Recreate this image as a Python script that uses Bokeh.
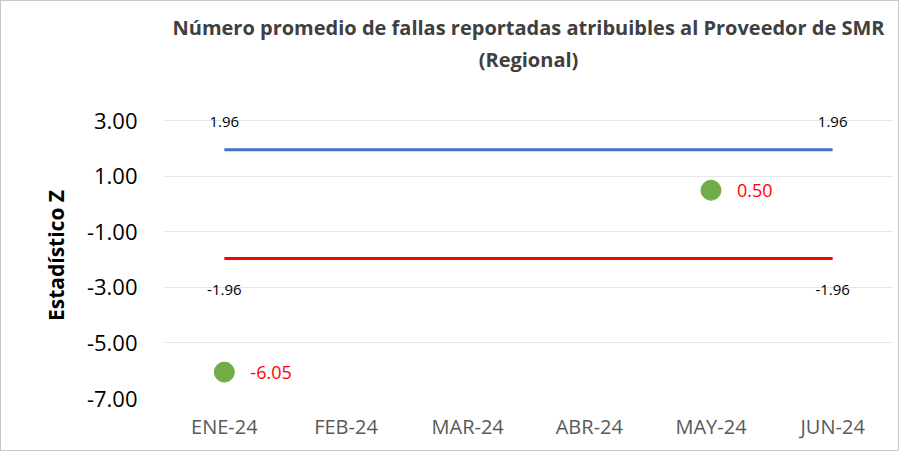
from bokeh.plotting import figure
from bokeh.models import Range1d, FixedTicker, NumeralTickFormatter, Title
from bokeh.embed import file_html
from bokeh.resources import INLINE
from bokeh.core.properties import value

months = ["ENE-24", "FEB-24", "MAR-24", "ABR-24", "MAY-24", "JUN-24"]
upper_limit = [1.96, 1.96, 1.96, 1.96, 1.96, 1.96]
lower_limit = [-1.96, -1.96, -1.96, -1.96, -1.96, -1.96]
z_months = ["ENE-24", "MAY-24"]
z_values = [-6.05, 0.50]
y_ticks = [-7, -5, -3, -1, 1, 3]
title_lines = ["Número promedio de fallas reportadas atribuibles al Proveedor de SMR", "(Regional)"]

FONT = "Open Sans"

p = figure(width=899, height=451, x_range=months, y_range=Range1d(-7, 3.3),
           output_backend="svg", toolbar_location=None, title=None,
           min_border_left=162, min_border_right=7, min_border_top=111, min_border_bottom=54)
p.styles = {"border": "1px solid #c8c8c8"}
p.outline_line_color = None
p.background_fill_color = "white"
p.border_fill_color = "white"

for txt, so in ((title_lines[1], 79), (title_lines[0], -73)):
    p.add_layout(Title(text=txt, align="center", text_font=FONT, text_font_style="bold",
                       text_font_size="20px", text_color="#404040", standoff=so), "above")

p.xgrid.grid_line_color = None
p.ygrid.grid_line_color = "#e6e6e6"
p.ygrid.grid_line_width = 1

p.yaxis.ticker = FixedTicker(ticks=y_ticks)
p.yaxis.formatter = NumeralTickFormatter(format="0.00")
for ax in (p.xaxis[0], p.yaxis[0]):
    ax.axis_line_color = None
    ax.major_tick_line_color = None
    ax.minor_tick_line_color = None
    ax.major_label_text_font = FONT
p.yaxis.major_label_text_font_size = "22px"
p.yaxis.major_label_text_color = "black"
p.yaxis.major_label_standoff = 20
p.yaxis.axis_label = "Estadístico Z"
p.yaxis.axis_label_text_font = FONT
p.yaxis.axis_label_text_font_style = "bold"
p.yaxis.axis_label_text_font_size = "21px"
p.yaxis.axis_label_text_color = "black"
p.yaxis.axis_label_standoff = 14
p.xaxis.major_label_text_font_size = "20px"
p.xaxis.major_label_text_color = "#595959"
p.xaxis.major_label_standoff = 8

p.line(x=months, y=upper_limit, line_color="#4472C4", line_width=3)
p.line(x=months, y=lower_limit, line_color="#FF0000", line_width=3)

ends = [months[0], months[-1]]
p.text(x=ends, y=[upper_limit[0], upper_limit[-1]],
       text=[f"{v:.2f}" for v in (upper_limit[0], upper_limit[-1])],
       text_font=value(FONT), text_font_size="15px", text_color="black",
       text_align="center", text_baseline="middle", y_offset=-28)
p.text(x=ends, y=[lower_limit[0], lower_limit[-1]],
       text=[f"{v:.2f}" for v in (lower_limit[0], lower_limit[-1])],
       text_font=value(FONT), text_font_size="15px", text_color="black",
       text_align="center", text_baseline="middle", y_offset=31)

p.scatter(x=z_months, y=z_values, size=20, fill_color="#70AD47", line_color="#70AD47")
p.text(x=z_months, y=z_values, text=[f"{v:.2f}" for v in z_values],
       text_font=value(FONT), text_font_size="18px", text_color="#FF0000",
       text_align="left", text_baseline="middle", x_offset=26)

open("out.html", "w").write(file_html(p, INLINE))
